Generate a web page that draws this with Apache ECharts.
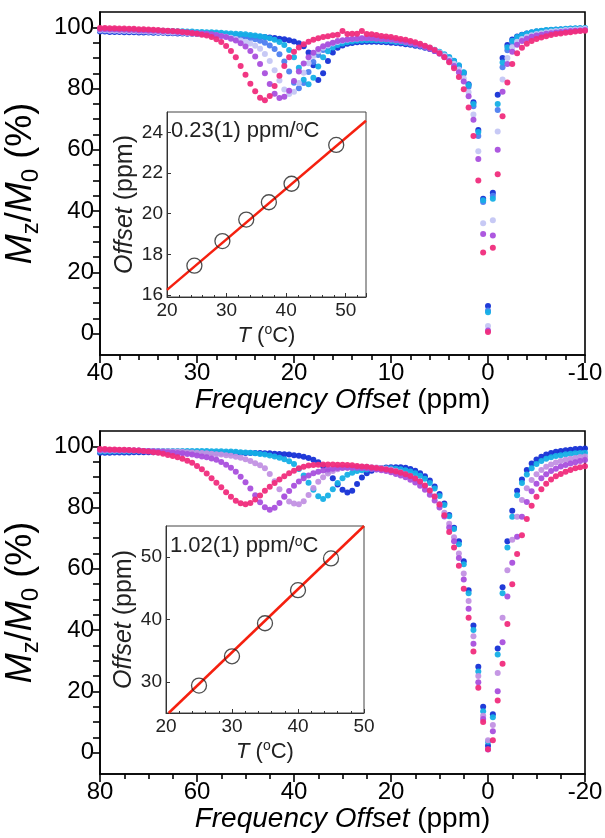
<!DOCTYPE html>
<html><head><meta charset="utf-8">
<script src="https://cdn.jsdelivr.net/npm/echarts@6/dist/echarts.min.js"></script>
<style>html,body{margin:0;padding:0;background:#fff}#c{width:605px;height:838px}</style>
</head><body><div id="c"></div>
<script>
// ---------- TOP PANEL DATA (frequency offset in ppm, Mz/M0 in %) ----------
const xTop = [
 40, 39.5, 39, 38.5, 38, 37.5, 37, 36.5, 36, 35.5,
 35, 34.5, 34, 33.5, 33, 32.5, 32, 31.5, 31, 30.5,
 30, 29.5, 29, 28.5, 28, 27.5, 27, 26.5, 26, 25.5,
 25, 24.5, 24, 23.5, 23, 22.5, 22, 21.5, 21, 20.5,
 20, 19.5, 19, 18.5, 18, 17.5, 17, 16.5, 16, 15.5,
 15, 14.5, 14, 13.5, 13, 12.5, 12, 11.5, 11, 10.5,
 10, 9.5, 9, 8.5, 8, 7.5, 7, 6.5, 6, 5.5,
 5, 4.5, 4, 3.5, 3, 2.5, 2, 1.5, 1, 0.5,
 0, -0.5, -1, -1.5, -2, -2.5, -3, -3.5, -4, -4.5,
 -5, -5.5, -6, -6.5, -7, -7.5, -8, -8.5, -9, -9.5,
 -10];
const topDarkBlue = [
 98.6, 98.6, 98.5, 98.5, 98.5, 98.4, 98.4, 98.4, 98.3, 98.3,
 98.3, 98.2, 98.2, 98.2, 98.1, 98.1, 98.0, 98.0, 97.9, 97.9,
 97.8, 97.8, 97.7, 97.7, 97.6, 97.6, 97.5, 97.4, 97.4, 97.3,
 97.2, 97.1, 97.0, 96.9, 96.8, 96.7, 96.5, 96.3, 96.1, 95.8,
 95.4, 94.8, 93.8, 91.8, 87.6, 82.8, 85.0, 89.0, 91.8, 93.3,
 94.1, 94.6, 94.9, 95.1, 95.2, 95.3, 95.3, 95.3, 95.2, 95.1,
 95.0, 94.9, 94.7, 94.5, 94.3, 94.0, 93.7, 93.3, 92.9, 92.3,
 91.7, 90.9, 90.0, 88.9, 87.4, 85.2, 81.4, 75.5, 66.5, 44.0,
 9.0, 46.0, 78.0, 90.0, 94.2, 96.0, 97.0, 97.6, 98.0, 98.3,
 98.6, 98.8, 99.0, 99.1, 99.2, 99.3, 99.4, 99.5, 99.5, 99.6,
 99.6];
const topBlue = [
 98.9, 98.9, 98.8, 98.8, 98.8, 98.7, 98.7, 98.7, 98.6, 98.6,
 98.5, 98.5, 98.4, 98.4, 98.3, 98.3, 98.2, 98.2, 98.1, 98.1,
 98.0, 97.9, 97.9, 97.8, 97.7, 97.6, 97.5, 97.4, 97.2, 97.0,
 96.8, 96.5, 96.1, 95.6, 95.0, 94.1, 92.9, 91.2, 88.8, 85.6,
 81.9, 80.1, 81.8, 85.4, 88.7, 91.0, 92.6, 93.6, 94.3, 94.8,
 95.2, 95.5, 95.7, 95.8, 95.9, 95.9, 95.9, 95.8, 95.7, 95.6,
 95.5, 95.3, 95.1, 94.9, 94.6, 94.3, 94.0, 93.6, 93.1, 92.5,
 91.8, 91.0, 90.0, 88.8, 87.2, 84.8, 80.6, 74.2, 64.5, 43.0,
 7.5, 45.0, 73.0, 87.0, 92.5, 95.0, 96.3, 97.0, 97.5, 97.9,
 98.2, 98.5, 98.7, 98.9, 99.0, 99.2, 99.3, 99.4, 99.5, 99.6,
 99.6];
const topCyan = [
 99.3, 99.3, 99.2, 99.2, 99.2, 99.1, 99.1, 99.1, 99.0, 99.0,
 99.0, 98.9, 98.9, 98.9, 98.8, 98.8, 98.7, 98.7, 98.6, 98.6,
 98.5, 98.5, 98.4, 98.4, 98.3, 98.2, 98.1, 98.0, 97.9, 97.8,
 97.7, 97.5, 97.3, 97.1, 96.8, 96.4, 95.9, 95.2, 94.2, 92.6,
 90.2, 86.8, 82.9, 81.4, 83.5, 87.2, 90.2, 92.2, 93.4, 94.2,
 94.7, 95.1, 95.4, 95.6, 95.7, 95.8, 95.8, 95.8, 95.7, 95.6,
 95.5, 95.3, 95.2, 95.0, 94.7, 94.4, 94.1, 93.7, 93.2, 92.7,
 92.0, 91.2, 90.3, 89.1, 87.6, 85.3, 81.2, 75.0, 65.8, 43.5,
 7.0, 44.0, 75.0, 88.5, 93.5, 95.6, 96.8, 97.5, 98.0, 98.4,
 98.7, 98.9, 99.1, 99.2, 99.3, 99.4, 99.5, 99.6, 99.7, 99.7,
 99.8];
const topLavender = [
 99.1, 99.1, 99.0, 99.0, 98.9, 98.9, 98.8, 98.8, 98.7, 98.7,
 98.6, 98.6, 98.5, 98.5, 98.4, 98.3, 98.3, 98.2, 98.1, 98.0,
 97.9, 97.8, 97.7, 97.5, 97.4, 97.2, 96.9, 96.6, 96.2, 95.7,
 95.3, 94.7, 94.0, 93.0, 91.3, 89.0, 86.0, 82.6, 79.7, 78.2,
 79.0, 81.8, 85.2, 88.3, 90.6, 92.2, 93.3, 94.1, 94.7, 95.2,
 95.6, 95.9, 96.1, 96.3, 96.4, 96.5, 96.5, 96.4, 96.3, 96.2,
 96.0, 95.8, 95.6, 95.3, 95.0, 94.7, 94.3, 93.8, 93.3, 92.6,
 91.8, 90.8, 89.6, 88.1, 86.2, 83.4, 78.8, 71.5, 59.5, 36.0,
 2.5, 37.0, 66.0, 83.0, 90.0, 93.5, 95.3, 96.2, 96.9, 97.4,
 97.8, 98.1, 98.4, 98.6, 98.8, 98.9, 99.1, 99.2, 99.3, 99.4,
 99.5];
const topPurple = [
 99.4, 99.4, 99.3, 99.3, 99.2, 99.2, 99.1, 99.1, 99.0, 99.0,
 98.9, 98.9, 98.8, 98.7, 98.7, 98.6, 98.5, 98.4, 98.3, 98.2,
 98.1, 98.0, 97.9, 97.7, 97.5, 97.2, 96.8, 96.3, 95.7, 94.8,
 93.7, 92.3, 90.5, 88.0, 85.0, 81.5, 78.3, 76.9, 77.3, 79.3,
 82.5, 85.6, 88.2, 90.2, 91.7, 92.9, 93.8, 94.5, 95.0, 95.5,
 95.8, 96.0, 96.2, 96.3, 96.4, 96.4, 96.4, 96.3, 96.2, 96.1,
 96.0, 95.8, 95.5, 95.2, 94.9, 94.5, 94.1, 93.6, 93.0, 92.3,
 91.4, 90.3, 89.0, 87.4, 85.3, 82.3, 77.5, 69.8, 57.0, 32.5,
 1.0, 32.0, 60.0, 79.0, 88.0, 92.0, 94.3, 95.5, 96.3, 96.9,
 97.3, 97.6, 97.9, 98.1, 98.3, 98.5, 98.6, 98.8, 98.9, 99.0,
 99.1];
const topPink = [
 99.8, 99.8, 99.7, 99.7, 99.6, 99.6, 99.5, 99.5, 99.4, 99.4,
 99.3, 99.2, 99.1, 99.0, 98.9, 98.8, 98.7, 98.5, 98.3, 98.1,
 97.9, 97.6, 97.3, 96.8, 96.1, 95.2, 93.9, 92.3, 90.2, 87.4,
 84.5, 81.6, 79.1, 77.0, 76.2, 77.6, 80.8, 84.2, 87.4, 90.2,
 92.0, 93.4, 94.5, 95.3, 95.9, 96.4, 96.8, 97.1, 97.4, 97.6,
 98.8, 97.8, 97.9, 97.9, 98.8, 97.8, 97.7, 97.5, 97.2, 97.0,
 96.8, 96.5, 96.2, 95.9, 95.5, 95.1, 94.6, 94.0, 93.4, 92.6,
 91.5, 90.2, 88.6, 86.6, 83.8, 79.8, 73.8, 64.5, 50.0, 26.5,
 0.5, 28.0, 52.0, 71.0, 82.0, 88.0, 91.5, 93.3, 94.6, 95.5,
 96.2, 96.7, 97.1, 97.5, 97.8, 98.0, 98.2, 98.4, 98.6, 98.8,
 98.9];
// top inset: CEST offset vs temperature
const topInsetT = [24.6, 29.3, 33.3, 37.1, 40.9, 48.4];
const topInsetOffset = [17.44, 18.65, 19.71, 20.56, 21.47, 23.38];
const topFitT = [20, 53.4];
const topFitOffset = [16.25, 24.57];

// ---------- BOTTOM PANEL DATA ----------
const xBot = [
 80, 79, 78, 77, 76, 75, 74, 73, 72, 71,
 70, 69, 68, 67, 66, 65, 64, 63, 62, 61,
 60, 59, 58, 57, 56, 55, 54, 53, 52, 51,
 50, 49, 48, 47, 46, 45, 44, 43, 42, 41,
 40, 39, 38, 37, 36, 35, 34, 33, 32, 31,
 30, 29, 28, 27, 26, 25, 24, 23, 22, 21,
 20, 19, 18, 17, 16, 15, 14, 13, 12, 11,
 10, 9, 8, 7, 6, 5, 4, 3, 2, 1,
 0, -1, -2, -3, -4, -5, -6, -7, -8, -9,
 -10, -11, -12, -13, -14, -15, -16, -17, -18, -19,
 -20];
const botDarkBlue = [
 97.9, 97.9, 97.9, 98.0, 98.0, 98.0, 98.0, 98.1, 98.1, 98.1,
 98.1, 98.1, 98.1, 98.1, 98.1, 98.1, 98.1, 98.1, 98.0, 98.0,
 98.0, 97.9, 97.9, 97.9, 97.9, 97.8, 97.8, 97.8, 97.8, 97.8,
 97.8, 97.8, 97.8, 97.8, 97.7, 97.7, 97.6, 97.5, 97.4, 97.3,
 97.1, 96.9, 96.6, 96.2, 95.6, 94.8, 93.6, 91.8, 89.6, 87.5,
 85.8, 84.9, 85.5, 87.7, 89.8, 91.2, 92.0, 92.5, 92.9, 93.1,
 93.2, 93.2, 93.2, 93.0, 92.6, 92.0, 91.2, 90.2, 88.8, 86.9,
 84.4, 81.3, 77.6, 73.4, 69.0, 62.5, 53.0, 41.5, 28.0, 15.0,
 2.2, 12.5, 34.0, 54.0, 69.0, 79.0, 85.5, 89.2, 92.3, 94.4,
 95.7, 96.6, 97.3, 97.8, 98.2, 98.5, 98.7, 98.9, 99.1, 99.2,
 99.3];
const botCyan = [
 98.3, 98.3, 98.3, 98.4, 98.4, 98.4, 98.4, 98.5, 98.5, 98.5,
 98.5, 98.5, 98.5, 98.5, 98.5, 98.5, 98.5, 98.5, 98.5, 98.5,
 98.5, 98.5, 98.5, 98.4, 98.4, 98.4, 98.3, 98.3, 98.2, 98.1,
 98.0, 97.9, 97.7, 97.5, 97.3, 97.0, 96.7, 96.3, 95.8, 95.1,
 94.2, 92.6, 90.5, 88.1, 85.8, 83.7, 82.8, 83.9, 86.0, 88.0,
 89.6, 90.7, 91.4, 91.9, 92.2, 92.4, 92.6, 92.7, 92.8, 92.8,
 92.8, 92.7, 92.5, 92.2, 91.8, 91.2, 90.4, 89.4, 88.0, 86.2,
 83.8, 80.8, 77.2, 73.0, 68.0, 61.5, 52.0, 40.0, 26.5, 13.5,
 3.5, 11.5, 32.0, 52.0, 67.0, 77.0, 84.0, 88.0, 90.8, 92.8,
 94.2, 95.2, 95.9, 96.4, 96.8, 97.1, 97.4, 97.6, 97.7, 97.8,
 97.9];
const botLavender = [
 98.6, 98.6, 98.6, 98.6, 98.6, 98.6, 98.6, 98.6, 98.6, 98.5,
 98.5, 98.5, 98.4, 98.4, 98.4, 98.3, 98.3, 98.2, 98.1, 98.0,
 97.9, 97.8, 97.7, 97.6, 97.4, 97.3, 97.1, 96.9, 96.6, 96.3,
 95.8, 95.2, 94.5, 93.8, 92.8, 91.0, 88.6, 86.0, 83.7, 82.0,
 81.3, 81.1, 82.1, 84.1, 86.4, 88.4, 89.9, 91.1, 91.9, 92.5,
 92.9, 93.1, 93.2, 93.3, 93.3, 93.3, 93.2, 93.1, 92.9, 92.7,
 92.4, 92.0, 91.5, 90.9, 90.2, 89.3, 88.3, 87.0, 85.5, 83.6,
 81.2, 78.3, 74.7, 70.3, 65.0, 58.5, 49.5, 38.0, 25.0, 12.0,
 4.0, 9.0, 26.0, 44.0, 59.5, 69.5, 77.0, 82.5, 86.3, 89.0,
 90.9, 92.3, 93.3, 94.1, 94.7, 95.2, 95.6, 95.9, 96.2, 96.5,
 96.7];
const botPurple = [
 98.8, 98.8, 98.8, 98.8, 98.7, 98.7, 98.7, 98.6, 98.6, 98.5,
 98.5, 98.4, 98.3, 98.2, 98.1, 98.0, 97.8, 97.7, 97.5, 97.3,
 97.0, 96.7, 96.4, 96.0, 95.6, 94.9, 94.0, 93.0, 91.7, 90.1,
 88.3, 86.2, 84.0, 81.7, 80.1, 79.3, 79.9, 81.5, 83.5, 85.4,
 87.1, 88.5, 89.6, 90.5, 91.2, 91.7, 92.1, 92.4, 92.7, 92.9,
 93.0, 93.0, 93.0, 93.0, 92.9, 92.8, 92.6, 92.4, 92.2, 91.9,
 91.5, 91.0, 90.5, 89.9, 89.1, 88.2, 87.1, 85.8, 84.2, 82.3,
 80.0, 77.1, 73.5, 69.0, 63.5, 56.5, 47.0, 35.5, 23.0, 11.0,
 1.0, 7.0, 20.0, 36.0, 51.0, 62.0, 70.5, 77.0, 81.8, 85.3,
 87.8, 89.6, 90.9, 91.9, 92.7, 93.4, 93.9, 94.4, 94.8, 95.2,
 95.5];
const botPink = [
 99.1, 99.1, 99.0, 99.0, 98.9, 98.9, 98.8, 98.7, 98.6, 98.5,
 98.3, 98.1, 97.9, 97.6, 97.2, 96.8, 96.4, 95.9, 95.3, 94.6,
 93.6, 92.5, 91.1, 89.6, 88.1, 86.6, 85.0, 83.5, 82.2, 81.4,
 81.1, 81.5, 82.6, 83.9, 85.5, 86.8, 88.0, 89.2, 90.2, 91.2,
 92.0, 92.8, 93.3, 93.7, 93.9, 94.0, 94.1, 94.1, 94.1, 94.0,
 94.0, 93.9, 93.8, 93.6, 93.4, 93.3, 93.1, 92.9, 92.7, 92.4,
 92.1, 91.8, 91.4, 90.9, 90.3, 89.5, 88.5, 87.2, 85.6, 83.6,
 81.0, 77.5, 72.0, 67.0, 61.0, 53.5, 44.0, 33.0, 21.2, 10.0,
 1.1, 4.0, 17.0, 29.0, 42.0, 55.0, 64.8, 71.0, 76.3, 80.6,
 83.5, 86.0, 87.8, 89.2, 90.2, 91.0, 91.7, 92.3, 92.8, 93.2,
 93.5];
const botInsetT = [25, 30, 35, 40, 45];
const botInsetOffset = [29.4, 34.1, 39.4, 44.7, 49.8];
const botFitT = [20.4, 50];
const botFitOffset = [25, 55];

// ---------- tick labels ----------
const mainYLabels = [0, 20, 40, 60, 80, 100];
const mainYTicks = [0, 5, 10, 15, 20, 25, 30, 35, 40, 45, 50, 55, 60, 65, 70, 75, 80, 85, 90, 95, 100];
const topInsetXLabels = [20, 30, 40, 50];
const topInsetYLabels = [16, 18, 20, 22, 24];
const botInsetXLabels = [20, 30, 40, 50];
const botInsetYLabels = [30, 40, 50];

// ---------- styling ----------
const FONT = '"Liberation Sans", Arial, Helvetica, sans-serif';
const C = {
  darkblue: '#1530d6', blue: '#4d7ef0', cyan: '#15afe6',
  lavTop: '#c4c6f4', lavBot: '#c291e3', purple: '#a94fdd', pink: '#f02c7c'
};
const pairs = (xs, ys) => xs.map((x, i) => [x, ys[i]]);
function dots(xi, xs, ys, color) {
  return { type: 'scatter', xAxisIndex: xi, yAxisIndex: xi, data: pairs(xs, ys),
    symbolSize: 6, itemStyle: { color: color, opacity: 0.95 }, silent: true, z: 2 };
}
const line = { color: '#000', width: 1.6 };
function mainX(grid, min, max, interval, minorSplit) {
  return { gridIndex: grid, type: 'value', min: min, max: max, interval: interval, inverse: true,
    axisLine: { onZero: false, lineStyle: line },
    axisTick: { length: 8, lineStyle: line },
    minorTick: { show: true, splitNumber: minorSplit, length: 5, lineStyle: line },
    splitLine: { show: false }, minorSplitLine: { show: false },
    axisLabel: { fontSize: 24, color: '#000', fontFamily: FONT, margin: 6 },
    name: '{it|Frequency Offset} (ppm)', nameLocation: 'middle', nameGap: 30,
    nameTextStyle: { fontSize: 28, color: '#000', fontFamily: FONT,
      rich: { it: { fontStyle: 'italic', fontSize: 28, fontFamily: FONT, color: '#000' } } } };
}
function mainY(grid) {
  return { gridIndex: grid, type: 'value', min: -7, max: 105,
    axisLine: { onZero: false, lineStyle: line },
    axisTick: { length: 7, lineStyle: line, customValues: mainYTicks },
    splitLine: { show: false },
    axisLabel: { fontSize: 24, color: '#000', fontFamily: FONT, margin: 6, customValues: mainYLabels },
    name: '{it|M}{sub|z}{n|/}{it|M}{sub|0}{n| (%)}', nameLocation: 'middle', nameGap: 47, nameRotate: 90,
    nameTextStyle: { fontSize: 36, color: '#000', fontFamily: FONT,
      rich: {
        it: { fontStyle: 'italic', fontSize: 36, lineHeight: 44, fontFamily: FONT, color: '#000' },
        n: { fontSize: 36, lineHeight: 44, fontFamily: FONT, color: '#000' },
        sub: { fontSize: 24, lineHeight: 24, verticalAlign: 'bottom', fontFamily: FONT, color: '#000' }
      } } };
}
const insetLine = { color: '#333', width: 1 };
function insetX(grid, min, max, labels) {
  return { gridIndex: grid, type: 'value', min: min, max: max, interval: 10,
    axisLine: { onZero: false, lineStyle: insetLine },
    axisTick: { inside: true, length: 4, lineStyle: insetLine },
    minorTick: { show: true, splitNumber: 5, length: 2, lineStyle: insetLine },
    splitLine: { show: false },
    axisLabel: { fontSize: 19, color: '#222', fontFamily: FONT, margin: 4, customValues: labels },
    name: '{it|T} ({sup|o}C)', nameLocation: 'middle', nameGap: 26,
    nameTextStyle: { fontSize: 22, color: '#222', fontFamily: FONT, lineHeight: 25,
      rich: { it: { fontStyle: 'italic', fontSize: 22, lineHeight: 25, fontFamily: FONT, color: '#222' },
              sup: { fontSize: 14, lineHeight: 14, verticalAlign: 'top', fontFamily: FONT, color: '#222' } } } };
}
function insetY(grid, min, max, labels) {
  return { gridIndex: grid, type: 'value', min: min, max: max,
    axisLine: { onZero: false, lineStyle: insetLine },
    axisTick: { inside: true, length: 4, lineStyle: insetLine, customValues: labels },
    splitLine: { show: false },
    axisLabel: { fontSize: 19, color: '#222', fontFamily: FONT, margin: 4, customValues: labels },
    name: '{it|Offset} (ppm)', nameLocation: 'middle', nameGap: 29, nameRotate: 90,
    nameTextStyle: { fontSize: 25, color: '#222', fontFamily: FONT,
      rich: { it: { fontStyle: 'italic', fontSize: 25, fontFamily: FONT, color: '#222' } } } };
}
function fit(xi, xs, ys) {
  return { type: 'line', xAxisIndex: xi, yAxisIndex: xi, data: pairs(xs, ys), symbol: 'none',
    lineStyle: { color: '#f5200f', width: 2.5 }, silent: true, z: 3 };
}
function circles(xi, xs, ys) {
  return { type: 'scatter', xAxisIndex: xi, yAxisIndex: xi, data: pairs(xs, ys), symbol: 'circle',
    symbolSize: 15, itemStyle: { color: 'rgba(0,0,0,0)', borderColor: '#222', borderWidth: 1.3 }, silent: true, z: 4 };
}
function note(left, top, txt) {
  return { type: 'text', left: left, top: top, z: 10,
    style: { text: txt, fill: '#222', font: '22px ' + FONT,
      rich: { n: { fontSize: 22, lineHeight: 26, fontFamily: FONT, fill: '#222' },
              sup: { fontSize: 14, lineHeight: 14, verticalAlign: 'top', fontFamily: FONT, fill: '#222' } } } };
}
const gridBase = { show: true, outerBoundsMode: 'none', containLabel: false };

const option = {
  animation: false,
  backgroundColor: '#fff',
  textStyle: { fontFamily: FONT },
  grid: [
    Object.assign({ left: 100, top: 12, width: 485, height: 343, borderColor: '#000', borderWidth: 1.6, backgroundColor: 'transparent' }, gridBase),
    Object.assign({ left: 167, top: 112, width: 199, height: 185, borderColor: '#444', borderWidth: 1, backgroundColor: '#fff' }, gridBase),
    Object.assign({ left: 100, top: 431, width: 485, height: 343, borderColor: '#000', borderWidth: 1.6, backgroundColor: 'transparent' }, gridBase),
    Object.assign({ left: 166, top: 526, width: 198, height: 187, borderColor: '#444', borderWidth: 1, backgroundColor: '#fff' }, gridBase)
  ],
  xAxis: [
    mainX(0, -10, 40, 10, 5),
    insetX(1, 20, 53.4, topInsetXLabels),
    mainX(2, -20, 80, 20, 4),
    insetX(3, 20, 50, botInsetXLabels)
  ],
  yAxis: [
    mainY(0),
    insetY(1, 15.9, 25, topInsetYLabels),
    mainY(2),
    insetY(3, 25, 55, botInsetYLabels)
  ],
  series: [
    dots(0, xTop, topDarkBlue, C.darkblue),
    dots(0, xTop, topBlue, C.blue),
    dots(0, xTop, topCyan, C.cyan),
    dots(0, xTop, topLavender, C.lavTop),
    dots(0, xTop, topPurple, C.purple),
    dots(0, xTop, topPink, C.pink),
    fit(1, topFitT, topFitOffset),
    circles(1, topInsetT, topInsetOffset),
    dots(2, xBot, botDarkBlue, C.darkblue),
    dots(2, xBot, botCyan, C.cyan),
    dots(2, xBot, botLavender, C.lavBot),
    dots(2, xBot, botPurple, C.purple),
    dots(2, xBot, botPink, C.pink),
    fit(3, botFitT, botFitOffset),
    circles(3, botInsetT, botInsetOffset)
  ],
  graphic: [
    note(171, 120, '0.23(1) ppm/{sup|o}C'),
    note(170, 535, '1.02(1) ppm/{sup|o}C')
  ]
};
const chart = echarts.init(document.getElementById('c'), null, { renderer: 'canvas' });
chart.setOption(option);
</script>
</body></html>
